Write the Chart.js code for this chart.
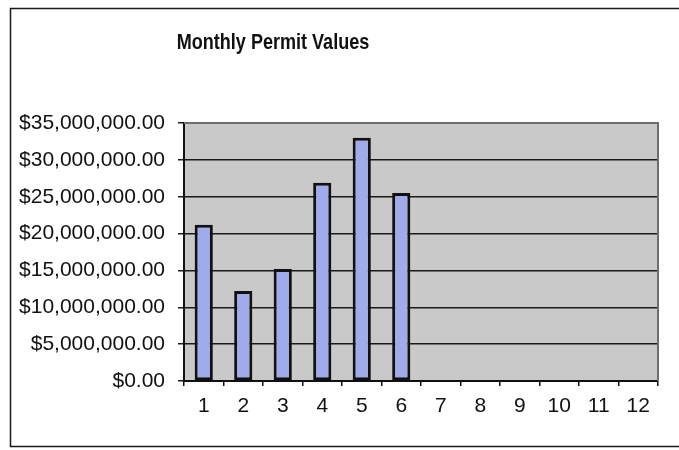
<!DOCTYPE html>
<html>
<head>
<meta charset="utf-8">
<title>Monthly Permit Values</title>
<script src="https://cdn.jsdelivr.net/npm/chart.js@4.4.0/dist/chart.umd.min.js"></script>
<style>
    html, body { margin: 0; padding: 0; background: #ffffff; }
    canvas { display: block; }
</style>
</head>
<body>
<canvas id="permitchart" width="679" height="450"></canvas>
<script>
'use strict'

var chartTitle = 'Monthly Permit Values';
var months = ['1', '2', '3', '4', '5', '6', '7', '8', '9', '10', '11', '12'];
var permitValues = [21200000, 12200000, 15200000, 26900000, 33000000, 25500000, null, null, null, null, null, null];
var yMin = 0;
var yMax = 35000000;
var yStep = 5000000;

function money(v) {
    var parts = Number(v).toFixed(2).split('.');
    return '$' + parts[0].replace(/\B(?=(\d{3})+(?!\d))/g, ',') + '.' + parts[1];
}

window.addEventListener('load', function () {

    /* frame, title and grey plot area */
    var framePlugin = {
        id: 'frame',
        beforeDraw: function (chart) {
            var ctx = chart.ctx;
            var a = chart.chartArea;
            ctx.save();
            ctx.fillStyle = '#ffffff';
            ctx.fillRect(0, 0, chart.width, chart.height);
            ctx.strokeStyle = '#1a1a1a';
            ctx.lineWidth = 1.5;
            ctx.strokeRect(10.5, 8.5, 700, 438);
            ctx.fillStyle = '#c9c9c9';
            ctx.fillRect(a.left, a.top, a.right - a.left, a.bottom - a.top);
            // title is a condensed bold face in the original
            ctx.translate(273, 43);
            ctx.scale(0.82, 1);
            ctx.fillStyle = '#111111';
            ctx.font = 'bold 22px "Liberation Sans", Arial, sans-serif';
            ctx.textAlign = 'center';
            ctx.textBaseline = 'middle';
            ctx.fillText(chartTitle, 0, 0);
            ctx.restore();
        },
        afterDatasetsDraw: function (chart) {
            var ctx = chart.ctx;
            var a = chart.chartArea;
            ctx.save();
            ctx.strokeStyle = '#6e6e6e';
            ctx.lineWidth = 2;
            ctx.beginPath();
            ctx.moveTo(a.left, a.top);
            ctx.lineTo(a.right, a.top);
            ctx.lineTo(a.right, a.bottom);
            ctx.stroke();
            ctx.restore();
        }
    };

    var permitchart = document.getElementById('permitchart').getContext('2d');
    var mypermitchart = new Chart(permitchart, {
        type: 'bar',
        data: {
            labels: months,
            datasets: [{
                label: 'Permit value',
                data: permitValues,
                backgroundColor: '#a0abeb',
                borderColor: '#111111',
                borderWidth: 3,
                borderSkipped: false,
                categoryPercentage: 1.0,
                barPercentage: 0.46,
            }]
        },
        options: {
            responsive: false,
            animation: false,
            layout: {
                padding: { left: 0, top: 123, right: 21, bottom: 10 },
            },
            plugins: {
                legend: { display: false },
                title: { display: false },
                tooltip: { enabled: false },
            },
            scales: {
                x: {
                    offset: true,
                    afterFit: function (scale) { scale.height = 59; },
                    grid: {
                        offset: true,
                        drawOnChartArea: false,
                        color: '#111111',
                        lineWidth: 1.5,
                        tickLength: 5,
                    },
                    border: { display: true, color: '#111111', width: 2 },
                    ticks: {
                        color: '#111111',
                        padding: 8,
                        maxRotation: 0,
                        font: { family: '"Liberation Sans", Arial, sans-serif', size: 21 },
                    },
                },
                y: {
                    min: yMin,
                    max: yMax,
                    afterFit: function (scale) { scale.width = 184; },
                    grid: {
                        color: '#1a1a1a',
                        lineWidth: 1.5,
                        tickLength: 6,
                    },
                    border: { display: true, color: '#111111', width: 2 },
                    ticks: {
                        stepSize: yStep,
                        color: '#111111',
                        padding: 13,
                        font: { family: '"Liberation Sans", Arial, sans-serif', size: 21 },
                        callback: function (value) { return money(value); },
                    },
                },
            },
        },
        plugins: [framePlugin],
    });

});
</script>
</body>
</html>
